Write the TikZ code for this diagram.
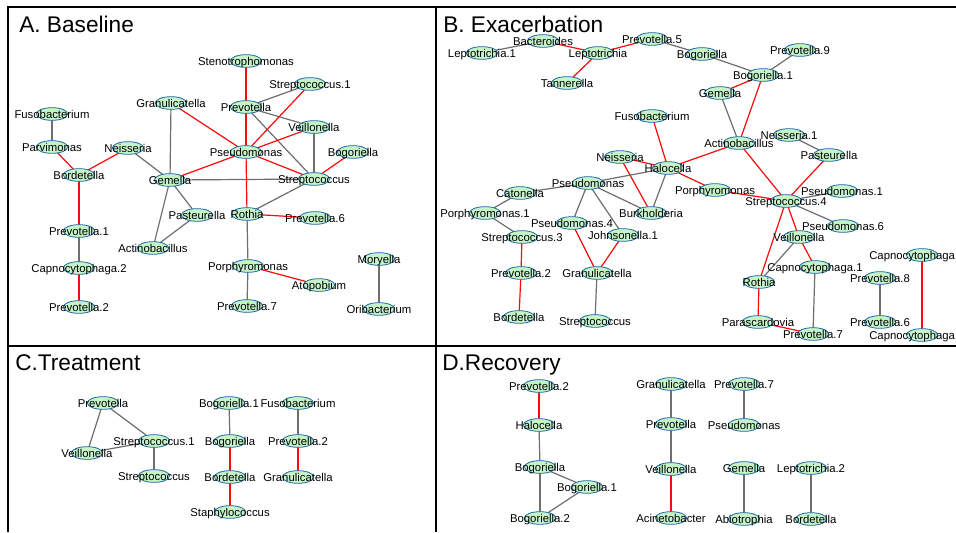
\documentclass[tikz,border=0pt]{standalone}
\usepackage{fontspec}
\setmainfont{Liberation Sans}
\usetikzlibrary{shapes.geometric}
\pgfdeclarelayer{background}
\pgfsetlayers{background,main}
\definecolor{nodegreen}{RGB}{198,244,200}
\definecolor{nodeblue}{RGB}{30,105,170}
\definecolor{edgered}{RGB}{250,10,10}
\definecolor{edgegray}{RGB}{110,110,110}
\tikzset{
  sp/.style={ellipse, draw=nodeblue, fill=nodegreen, line width=0.6pt,
    minimum width=23.5pt, minimum height=9.5pt, inner sep=0pt},
  lbl/.style={font=\fontsize{8.5}{9}\selectfont, text=black, inner sep=0pt,
    text height=6.2pt, text depth=0pt},
  ttl/.style={font=\fontsize{17}{18}\selectfont, inner sep=0pt, anchor=base west},
  posedge/.style={line width=0.9pt, draw=edgered},
  negedge/.style={line width=0.9pt, draw=edgegray},
  panelframe/.style={line width=1.1pt, draw=black}
}
\newcommand{\bnode}[4]{\node[sp, label={[lbl]center:#4}] (#1) at (#2,#3) {};}
\begin{document}
\begin{tikzpicture}[x=0.75pt,y=-0.75pt]
\useasboundingbox (0,0) rectangle (956,532);
% frames
\coordinate (fBL) at (8,532);
\coordinate (fTL) at (8,7);
\coordinate (fTR) at (956,7);
\coordinate (fMT) at (436,7);
\coordinate (fMB) at (436,532);
\coordinate (fHL) at (8,346);
\coordinate (fHR) at (956,346);
\draw[panelframe] (fBL) -- (fTL) -- (fTR);
\draw[panelframe] (fMT) -- (fMB);
\draw[panelframe] (fHL) -- (fHR);
% titles
\node[ttl] (tA) at (19,32) {A. Baseline};
\node[ttl] (tB) at (443,32) {B. Exacerbation};
\node[ttl] (tC) at (15,370) {C.Treatment};
\node[ttl] (tD) at (442,370) {D.Recovery};
% ---------- Panel A ----------
\bnode{aFuso}{52}{114}{Fusobacterium}
\bnode{aParv}{52}{147}{Parvimonas}
\bnode{aBord}{79}{175}{Bordetella}
\bnode{aNeis}{128}{148}{Neisseria}
\bnode{aGeme}{170}{180}{Gemella}
\bnode{aGran}{171}{103}{Granulicatella}
\bnode{aPast}{197}{215}{Pasteurella}
\bnode{aActi}{153}{248}{Actinobacillus}
\bnode{aPreA}{79}{231}{Prevotella.1}
\bnode{aCapB}{79}{268}{Capnocytophaga.2}
\bnode{aPreB}{79}{307}{Prevotella.2}
\bnode{aSten}{246}{61}{Stenotrophomonas}
\bnode{aStrA}{310}{84}{Streptococcus.1}
\bnode{aPrev}{246}{107}{Prevotella}
\bnode{aVeil}{314}{127}{Veillonella}
\bnode{aPseu}{246}{152}{Pseudomonas}
\bnode{aBogo}{353}{152}{Bogoriella}
\bnode{aStre}{314}{179}{Streptococcus}
\bnode{aRoth}{247}{214}{Rothia}
\bnode{aPreF}{315}{218}{Prevotella.6}
\bnode{aPorp}{248}{266}{Porphyromonas}
\bnode{aAtop}{319}{285}{Atopobium}
\bnode{aPreG}{247}{306}{Prevotella.7}
\bnode{aMory}{379}{259}{Moryella}
\bnode{aOrib}{379}{309}{Oribacterium}
% ---------- Panel B ----------
\bnode{bLepA}{482}{53}{Leptotrichia.1}
\bnode{bBact}{543}{41}{Bacteroides}
\bnode{bLept}{598}{53}{Leptotrichia}
\bnode{bPreE}{652}{39}{Prevotella.5}
\bnode{bBogo}{702}{54}{Bogoriella}
\bnode{bTann}{567}{83}{Tannerella}
\bnode{bPreI}{800}{50}{Prevotella.9}
\bnode{bBogA}{763}{75}{Bogoriella.1}
\bnode{bGeme}{720}{93}{Gemella}
\bnode{bFuso}{652}{116}{Fusobacterium}
\bnode{bActi}{739}{143}{Actinobacillus}
\bnode{bNeiA}{789}{135}{Neisseria.1}
\bnode{bPast}{829}{155}{Pasteurella}
\bnode{bNeis}{620}{157}{Neisseria}
\bnode{bHalo}{668}{168}{Halocella}
\bnode{bPseu}{588}{183}{Pseudomonas}
\bnode{bPorp}{715}{190}{Porphyromonas}
\bnode{bPseA}{842}{191}{Pseudomonas.1}
\bnode{bStrD}{786}{201}{Streptococcus.4}
\bnode{bBurk}{651}{213}{Burkholderia}
\bnode{bPseF}{843}{226}{Pseudomonas.6}
\bnode{bCato}{520}{193}{Catonella}
\bnode{bPorA}{485}{213}{Porphyromonas.1}
\bnode{bStrC}{522}{237}{Streptococcus.3}
\bnode{bPseD}{572}{223}{Pseudomonas.4}
\bnode{bJohA}{623}{235}{Johnsonella.1}
\bnode{bPreB}{521}{273}{Prevotella.2}
\bnode{bGran}{597}{273}{Granulicatella}
\bnode{bBord}{519}{317}{Bordetella}
\bnode{bStre}{595}{321}{Streptococcus}
\bnode{bVeil}{799}{237}{Veillonella}
\bnode{bCapA}{815}{267}{Capnocytophaga.1}
\bnode{bRoth}{759}{282}{Rothia}
\bnode{bPara}{758}{322}{Parascardovia}
\bnode{bPreG}{813}{334}{Prevotella.7}
\bnode{bPreH}{880}{278}{Prevotella.8}
\bnode{bPreF}{880}{322}{Prevotella.6}
\node[sp] (bCapT) at (922,255) {};
\node[lbl, anchor=west] (bCapTl) at (869,255) {Capnocytophaga};
\node[sp] (bCapU) at (922,335) {};
\node[lbl, anchor=west] (bCapUl) at (869,335) {Capnocytophaga};
% ---------- Panel C ----------
\bnode{cPrev}{103}{403}{Prevotella}
\bnode{cVeil}{87}{453}{Veillonella}
\bnode{cStrA}{154}{441}{Streptococcus.1}
\bnode{cStre}{154}{476}{Streptococcus}
\bnode{cBogA}{229}{403}{Bogoriella.1}
\bnode{cBogo}{230}{441}{Bogoriella}
\bnode{cBord}{230}{477}{Bordetella}
\bnode{cStap}{230}{512}{Staphylococcus}
\bnode{cFuso}{298}{403}{Fusobacterium}
\bnode{cPreB}{298}{441}{Prevotella.2}
\bnode{cGran}{298}{477}{Granulicatella}
% ---------- Panel D ----------
\bnode{dPreB}{539}{386}{Prevotella.2}
\bnode{dHalo}{539}{425}{Halocella}
\bnode{dBogo}{540}{467}{Bogoriella}
\bnode{dBogA}{587}{487}{Bogoriella.1}
\bnode{dBogB}{540}{518}{Bogoriella.2}
\bnode{dGran}{671}{384}{Granulicatella}
\bnode{dPrev}{671}{424}{Prevotella}
\bnode{dVeil}{671}{469}{Veillonella}
\bnode{dAcin}{671}{518}{Acinetobacter}
\bnode{dPreG}{744}{384}{Prevotella.7}
\bnode{dPseu}{744}{425}{Pseudomonas}
\bnode{dGeme}{744}{468}{Gemella}
\bnode{dAbio}{744}{519}{Abiotrophia}
\bnode{dLepB}{811}{468}{Leptotrichia.2}
\bnode{dBord}{811}{519}{Bordetella}
% ---------- edges ----------
\begin{pgfonlayer}{background}
\fill[white] (0,0) rectangle (956,532);
% A
\draw[negedge] (aFuso.center) -- (aParv.center);
\draw[posedge] (aParv.center) -- (aBord.center);
\draw[posedge] (aBord.center) -- (aNeis.center);
\draw[posedge] (aBord.center) -- (aPreA.center);
\draw[negedge] (aPreA.center) -- (aCapB.center);
\draw[posedge] (aCapB.center) -- (aPreB.center);
\draw[negedge] (aNeis.center) -- (aGeme.center);
\draw[negedge] (aGran.center) -- (aGeme.center);
\draw[negedge] (aGeme.center) -- (aPast.center);
\draw[negedge] (aGeme.center) -- (aActi.center);
\draw[negedge] (aPast.center) -- (aActi.center);
\draw[negedge] (aGeme.center) -- (aStre.center);
\draw[posedge] (aGeme.center) -- (aPseu.center);
\draw[posedge] (aGran.center) -- (aPseu.center);
\draw[posedge] (aSten.center) -- (aPrev.center);
\draw[posedge] (aPrev.center) -- (aPseu.center);
\draw[negedge] (aPrev.center) -- (aStrA.center);
\draw[negedge] (aPrev.center) -- (aVeil.center);
\draw[negedge] (aPrev.center) -- (aStre.center);
\draw[posedge] (aStrA.center) -- (aPseu.center);
\draw[posedge] (aVeil.center) -- (aPseu.center);
\draw[negedge] (aVeil.center) -- (aStre.center);
\draw[posedge] (aPseu.center) -- (aStre.center);
\draw[posedge] (aBogo.center) -- (aStre.center);
\draw[posedge] (aPseu.center) -- (aRoth.center);
\draw[negedge] (aStre.center) -- (aRoth.center);
\draw[posedge] (aRoth.center) -- (aPreF.center);
\draw[negedge] (aRoth.center) -- (aPorp.center);
\draw[posedge] (aPorp.center) -- (aAtop.center);
\draw[negedge] (aPorp.center) -- (aPreG.center);
\draw[negedge] (aMory.center) -- (aOrib.center);
% B
\draw[negedge] (bLepA.center) -- (bBact.center);
\draw[posedge] (bBact.center) -- (bLept.center);
\draw[posedge] (bLept.center) -- (bPreE.center);
\draw[posedge] (bLept.center) -- (bTann.center);
\draw[negedge] (bPreE.center) -- (bBogo.center);
\draw[negedge] (bBogo.center) -- (bBogA.center);
\draw[negedge] (bBogA.center) -- (bPreI.center);
\draw[posedge] (bBogA.center) -- (bGeme.center);
\draw[posedge] (bBogA.center) -- (bActi.center);
\draw[negedge] (bGeme.center) -- (bActi.center);
\draw[posedge] (bActi.center) -- (bHalo.center);
\draw[posedge] (bActi.center) -- (bStrD.center);
\draw[posedge] (bFuso.center) -- (bHalo.center);
\draw[posedge] (bNeis.center) -- (bHalo.center);
\draw[posedge] (bNeis.center) -- (bBurk.center);
\draw[negedge] (bHalo.center) -- (bPseu.center);
\draw[negedge] (bHalo.center) -- (bBurk.center);
\draw[posedge] (bHalo.center) -- (bPorp.center);
\draw[posedge] (bPorp.center) -- (bStrD.center);
\draw[negedge] (bNeiA.center) -- (bPast.center);
\draw[posedge] (bPast.center) -- (bStrD.center);
\draw[negedge] (bStrD.center) -- (bPseA.center);
\draw[negedge] (bStrD.center) -- (bPseF.center);
\draw[posedge] (bStrD.center) -- (bRoth.center);
\draw[posedge] (bStrD.center) -- (bVeil.center);
\draw[posedge] (bVeil.center) -- (bCapA.center);
\draw[negedge] (bVeil.center) -- (bRoth.center);
\draw[posedge] (bRoth.center) -- (bPara.center);
\draw[posedge] (bPara.center) -- (bPreG.center);
\draw[negedge] (bCapA.center) -- (bPreG.center);
\draw[negedge] (bPreH.center) -- (bPreF.center);
\draw[posedge] (bCapT.center) -- (bCapU.center);
\draw[negedge] (bPseu.center) -- (bCato.center);
\draw[negedge] (bCato.center) -- (bPorA.center);
\draw[negedge] (bPorA.center) -- (bStrC.center);
\draw[negedge] (bPseu.center) -- (bPseD.center);
\draw[negedge] (bPseu.center) -- (bJohA.center);
\draw[negedge] (bPseu.center) -- (bBurk.center);
\draw[posedge] (bPseD.center) -- (bGran.center);
\draw[posedge] (bJohA.center) -- (bGran.center);
\draw[posedge] (bStrC.center) -- (bPreB.center);
\draw[posedge] (bPreB.center) -- (bBord.center);
\draw[negedge] (bGran.center) -- (bStre.center);
% C
\draw[negedge] (cPrev.center) -- (cVeil.center);
\draw[negedge] (cPrev.center) -- (cStrA.center);
\draw[negedge] (cVeil.center) -- (cStrA.center);
\draw[negedge] (cStrA.center) -- (cStre.center);
\draw[negedge] (cBogA.center) -- (cBogo.center);
\draw[posedge] (cBogo.center) -- (cBord.center);
\draw[posedge] (cBord.center) -- (cStap.center);
\draw[negedge] (cFuso.center) -- (cPreB.center);
\draw[posedge] (cPreB.center) -- (cGran.center);
% D
\draw[posedge] (dPreB.center) -- (dHalo.center);
\draw[negedge] (dHalo.center) -- (dBogo.center);
\draw[negedge] (dBogo.center) -- (dBogA.center);
\draw[negedge] (dBogo.center) -- (dBogB.center);
\draw[negedge] (dBogA.center) -- (dBogB.center);
\draw[negedge] (dGran.center) -- (dPrev.center);
\draw[negedge] (dPrev.center) -- (dVeil.center);
\draw[posedge] (dVeil.center) -- (dAcin.center);
\draw[negedge] (dPreG.center) -- (dPseu.center);
\draw[negedge] (dGeme.center) -- (dAbio.center);
\draw[negedge] (dLepB.center) -- (dBord.center);
\end{pgfonlayer}
\end{tikzpicture}
\end{document}
